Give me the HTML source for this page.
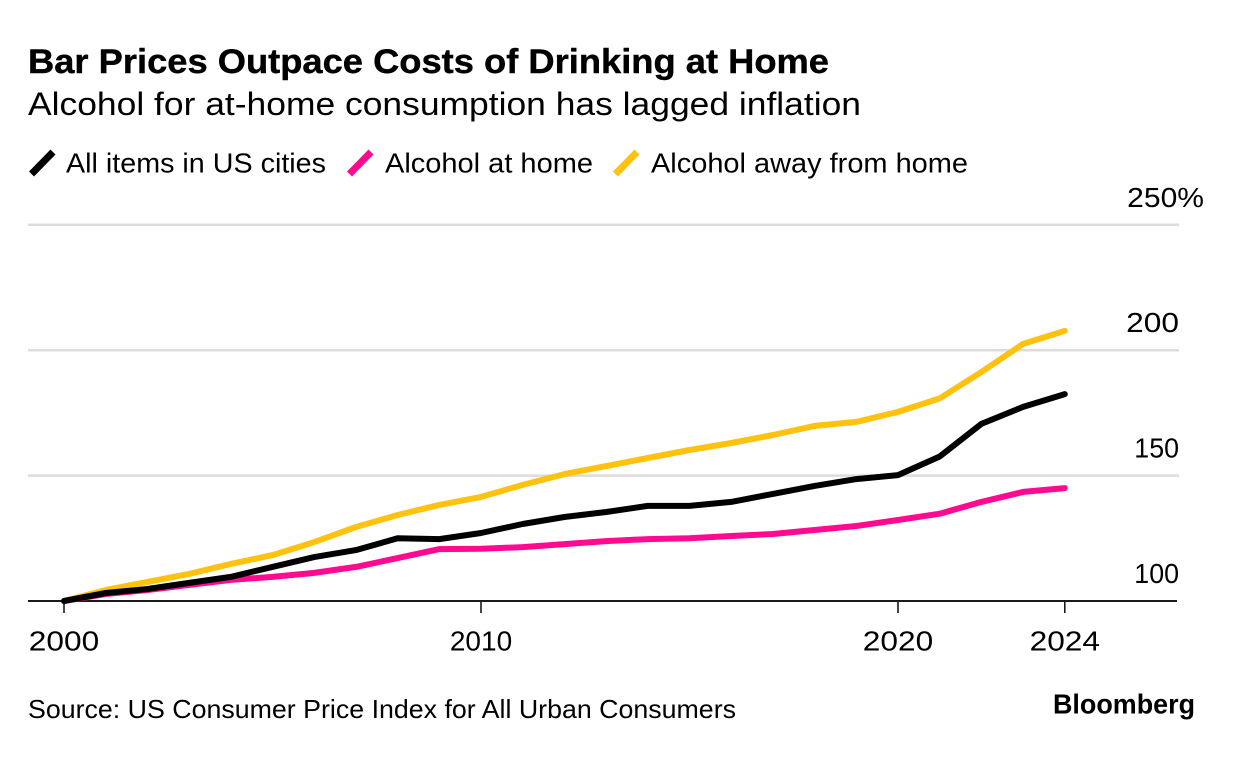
<!DOCTYPE html>
<html>
<head>
<meta charset="utf-8">
<style>
html,body{margin:0;padding:0;background:#fff;}
svg{display:block;}
text{font-family:"Liberation Sans",sans-serif;fill:#000;}
</style>
</head>
<body>
<svg id="chart" width="1233" height="766" viewBox="0 0 1233 766" xmlns="http://www.w3.org/2000/svg">
  <rect x="0" y="0" width="1233" height="766" fill="#fff"/>
  <text x="28" y="73" font-size="34.5" font-weight="700" textLength="801" lengthAdjust="spacingAndGlyphs" stroke="#000" stroke-width="0.4">Bar Prices Outpace Costs of Drinking at Home</text>
  <text x="28" y="115" font-size="32" textLength="833" lengthAdjust="spacingAndGlyphs">Alcohol for at-home consumption has lagged inflation</text>

  <line x1="31.5" y1="174" x2="53" y2="152" stroke="#000" stroke-width="7"/>
  <text x="66" y="172.5" font-size="28" textLength="260" lengthAdjust="spacingAndGlyphs">All items in US cities</text>
  <line x1="349.5" y1="174" x2="371" y2="152" stroke="#ff0a91" stroke-width="7"/>
  <text x="385" y="172.5" font-size="28" textLength="208" lengthAdjust="spacingAndGlyphs">Alcohol at home</text>
  <line x1="615.5" y1="174" x2="637" y2="152" stroke="#ffc20e" stroke-width="7"/>
  <text x="651" y="172.5" font-size="28" textLength="317" lengthAdjust="spacingAndGlyphs">Alcohol away from home</text>

  <g id="y-axis"></g>
  <g id="x-axis"></g>
  <g id="series"></g>

  <text x="28" y="718" font-size="26" textLength="708" lengthAdjust="spacingAndGlyphs">Source: US Consumer Price Index for All Urban Consumers</text>
  <text x="1053" y="713.5" font-size="27.5" font-weight="700" textLength="142" lengthAdjust="spacingAndGlyphs">Bloomberg</text>
</svg>
<script>
const years = [2000,2001,2002,2003,2004,2005,2006,2007,2008,2009,2010,2011,2012,2013,2014,2015,2016,2017,2018,2019,2020,2021,2022,2023,2024];
const allItems = [100,103.2,104.8,107.2,109.6,113.6,117.5,120.3,125,124.7,127.1,130.7,133.5,135.5,137.9,137.9,139.5,142.7,145.9,148.6,150.2,157.6,170.6,177.4,182.5];
const alcoholAtHome = [100,102.8,104.4,106.4,108.4,109.6,111.2,113.6,117.1,120.7,120.8,121.5,122.7,123.9,124.7,125,125.9,126.7,128.3,129.9,132.3,134.8,139.5,143.5,145];
const alcoholAway = [100,104.4,107.6,110.8,114.8,118.3,123.5,129.5,134.3,138.3,141.5,146.3,150.6,153.8,157,160.2,163,166.2,169.8,171.4,175.4,180.8,191.3,202.5,207.7];
const yTicks = [100,150,200,250];
const yTickLabels = ["100","150","200","250%"];
const xTicks = [2000,2010,2020,2024];
const xTickLabels = ["2000","2010","2020","2024"];

const NS = "http://www.w3.org/2000/svg";
function xScale(year){ return 64 + (year - 2000) * 41.7; }
function yScale(value){ return 601 - (value - 100) * 2.508; }
function make(tag, attrs, parent){
  const el = document.createElementNS(NS, tag);
  for (const k in attrs) el.setAttribute(k, attrs[k]);
  parent.appendChild(el);
  return el;
}
function labelWidth(str){
  let w = 0;
  for (const ch of str) w += ch === '1' ? 9.5 : ch === '%' ? 24 : 17.6;
  return w;
}

const yAxis = document.getElementById('y-axis');
yTicks.forEach(function(t, i){
  if (t !== 100) {
    const grid = make('line', {x1:28, x2:1179, y1:yScale(t), y2:yScale(t), stroke:'#dcdcdc', 'stroke-width':2.5}, yAxis);
    
    
  }
  const str = yTickLabels[i];
  const rightEdge = str.indexOf('%') >= 0 ? 1204 : 1179;
  const label = make('text', {x:rightEdge - labelWidth(str), y:yScale(t) - 18, 'font-size':28, textLength:labelWidth(str), lengthAdjust:'spacingAndGlyphs'}, yAxis);
  label.textContent = str;
  
  
});

const xAxis = document.getElementById('x-axis');
const baseline = make('line', {x1:28, x2:1177, y1:yScale(100), y2:yScale(100), stroke:'#1a1a1a', 'stroke-width':2}, xAxis);


xTicks.forEach(function(t, i){
  const tick = make('line', {x1:xScale(t), x2:xScale(t), y1:yScale(100), y2:yScale(100) + 12, stroke:'#1a1a1a', 'stroke-width':1.6}, xAxis);
  
  
  const str = xTickLabels[i];
  const label = make('text', {x:xScale(t) - labelWidth(str) / 2, y:650.7, 'font-size':28, textLength:labelWidth(str), lengthAdjust:'spacingAndGlyphs'}, xAxis);
  label.textContent = str;
  
  
});

function pathFor(values){
  return values.map(function(v, i){
    return (i ? 'L' : 'M') + xScale(years[i]).toFixed(1) + ' ' + yScale(v).toFixed(1);
  }).join(' ');
}
const seriesGroup = document.getElementById('series');
const yellowLine = make('path', {d:pathFor(alcoholAway), fill:'none', stroke:'#ffc20e', 'stroke-width':6, 'stroke-linecap':'round', 'stroke-linejoin':'round'}, seriesGroup);


const pinkLine = make('path', {d:pathFor(alcoholAtHome), fill:'none', stroke:'#ff0a91', 'stroke-width':6, 'stroke-linecap':'round', 'stroke-linejoin':'round'}, seriesGroup);


const blackLine = make('path', {d:pathFor(allItems), fill:'none', stroke:'#000', 'stroke-width':6, 'stroke-linecap':'round', 'stroke-linejoin':'round'}, seriesGroup);


</script>
</body>
</html>
